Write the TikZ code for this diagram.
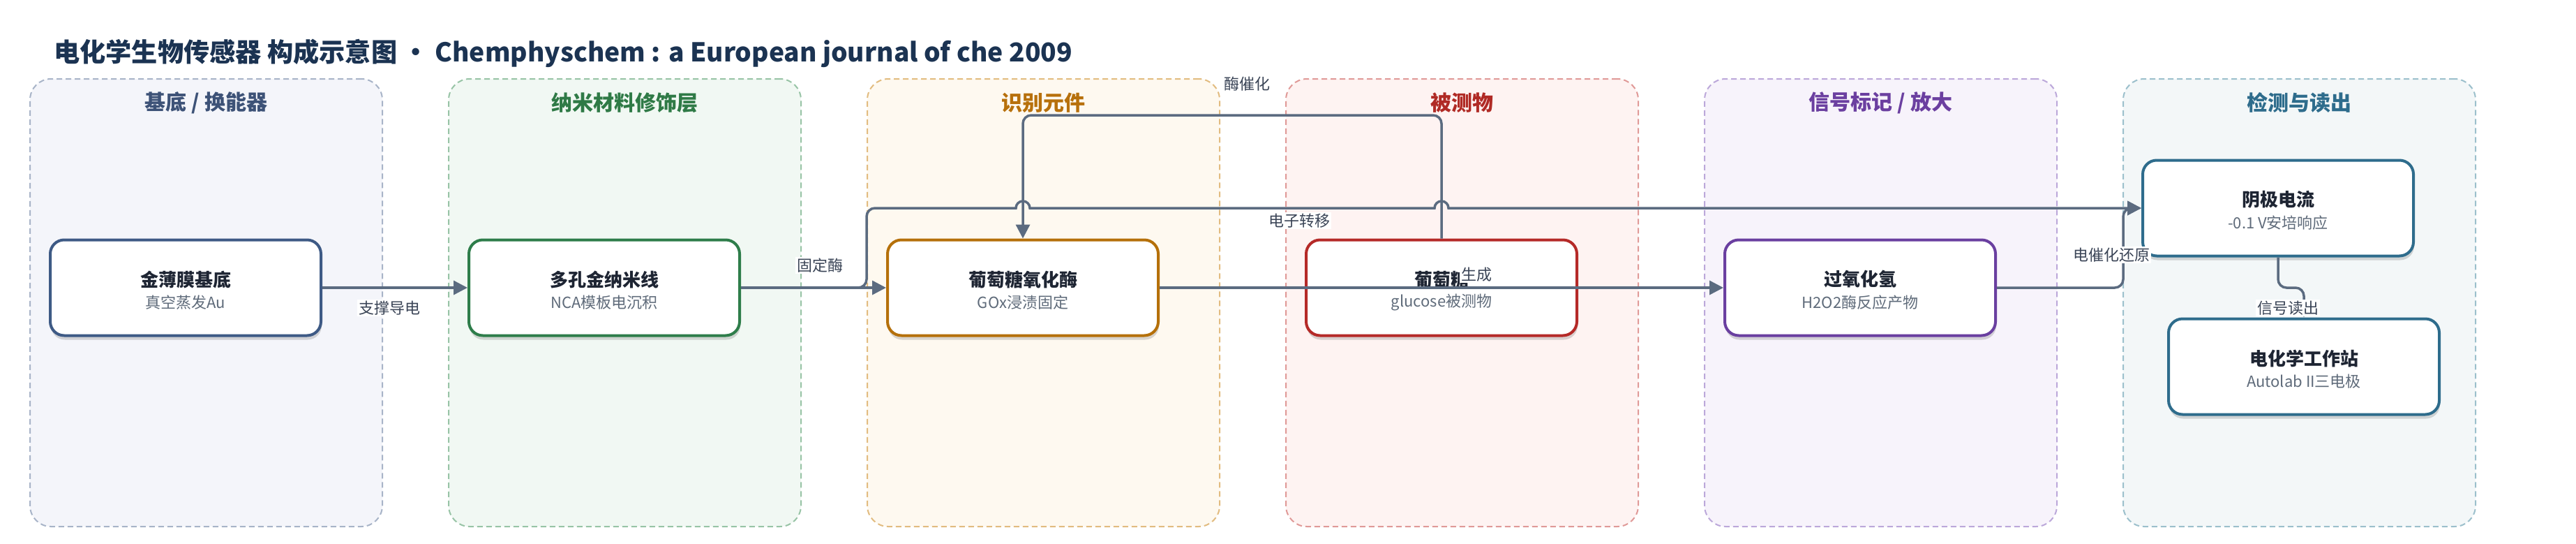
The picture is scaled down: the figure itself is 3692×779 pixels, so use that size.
\documentclass[tikz,border=0pt]{standalone}
\usepackage{fontspec}
\setmainfont{Noto Sans CJK SC}
\usetikzlibrary{arrows.meta,shadows}
\definecolor{titlec}{HTML}{1B3352}
\definecolor{edgec}{HTML}{5B6B80}
\definecolor{lblc}{HTML}{3A4456}
\definecolor{ntc}{HTML}{1E2533}
\definecolor{nsc}{HTML}{5F6B7A}
\definecolor{laneAf}{HTML}{F4F5FA}\definecolor{laneAd}{HTML}{A8B4C8}\definecolor{laneAt}{HTML}{3D5277}\definecolor{boxA}{HTML}{3E5A85}
\definecolor{laneBf}{HTML}{F1F8F3}\definecolor{laneBd}{HTML}{98C4A6}\definecolor{laneBt}{HTML}{2F7A46}\definecolor{boxB}{HTML}{2E7D4A}
\definecolor{laneCf}{HTML}{FEF9F0}\definecolor{laneCd}{HTML}{E2BC80}\definecolor{laneCt}{HTML}{B7700B}\definecolor{boxC}{HTML}{B5700A}
\definecolor{laneDf}{HTML}{FEF3F2}\definecolor{laneDd}{HTML}{E09A98}\definecolor{laneDt}{HTML}{B02A25}\definecolor{boxD}{HTML}{B52A28}
\definecolor{laneEf}{HTML}{F7F3FB}\definecolor{laneEd}{HTML}{BCA8DA}\definecolor{laneEt}{HTML}{6B3FA0}\definecolor{boxE}{HTML}{6A3FA0}
\definecolor{laneFf}{HTML}{F3F7F8}\definecolor{laneFd}{HTML}{9CC0CC}\definecolor{laneFt}{HTML}{2E6C8C}\definecolor{boxF}{HTML}{2E6C8C}
\begin{document}
\begin{tikzpicture}[x=1pt,y=-1pt,
  lane/.style={line width=2pt, dash pattern=on 8pt off 5pt, rounded corners=30pt, minimum width=505pt, minimum height=641pt, inner sep=0pt},
  lanetitle/.style={font=\bfseries\fontsize{30}{34}\selectfont, inner sep=0pt},
  box/.style={draw, fill=white, line width=4pt, rounded corners=20pt, minimum width=388pt, minimum height=137pt, inner sep=0pt,
    drop shadow={shadow xshift=1pt, shadow yshift=-6pt, opacity=0.15, fill=black}},
  ntitle/.style={font=\bfseries\fontsize{26}{30}\selectfont, text=ntc, inner sep=0pt},
  nsub/.style={font=\fontsize{22}{26}\selectfont, text=nsc, inner sep=0pt},
  edge/.style={draw=edgec, line width=3.5pt, rounded corners=12pt, -{Triangle[length=20pt,width=20pt]}},
  lbl/.style={fill=white, text=lblc, font=\fontsize{22}{26}\selectfont, inner sep=2pt}
]
\useasboundingbox (0,0) rectangle (3692,779);
\fill[white] (0,0) rectangle (3692,779);

% title
\node[anchor=west, inner sep=0pt, text=titlec, font=\bfseries\fontsize{37.2}{41}\selectfont] (title) at (77,76) {电化学生物传感器 构成示意图 • Chemphyschem : a European journal of che 2009};

% lanes
\node[lane, draw=laneAd, fill=laneAf] (L1) at (295.5,433.5) {};
\node[lane, draw=laneBd, fill=laneBf] (L2) at (895.5,433.5) {};
\node[lane, draw=laneCd, fill=laneCf] (L3) at (1495.5,433.5) {};
\node[lane, draw=laneDd, fill=laneDf] (L4) at (2095.5,433.5) {};
\node[lane, draw=laneEd, fill=laneEf] (L5) at (2695.5,433.5) {};
\node[lane, draw=laneFd, fill=laneFf] (L6) at (3295.5,433.5) {};
\node[lanetitle, text=laneAt] (T1) at (295.5,147) {基底 / 换能器};
\node[lanetitle, text=laneBt] (T2) at (895.5,147) {纳米材料修饰层};
\node[lanetitle, text=laneCt] (T3) at (1495.5,147) {识别元件};
\node[lanetitle, text=laneDt] (T4) at (2095.5,147) {被测物};
\node[lanetitle, text=laneEt] (T5) at (2695.5,147) {信号标记 / 放大};
\node[lanetitle, text=laneFt] (T6) at (3295.5,147) {检测与读出};

% boxes
\node[box, draw=boxA] (n1) at (266,412) {};
\node[box, draw=boxB] (n2) at (866,412) {};
\node[box, draw=boxC] (n3) at (1466,412) {};
\node[box, draw=boxD] (n4) at (2066,412) {};
\node[box, draw=boxE] (n5) at (2666,412) {};
\node[box, draw=boxF] (n6) at (3265,298) {};
\node[box, draw=boxF] (n7) at (3302,525) {};

\node[ntitle] (n1t) at (266,400) {金薄膜基底};
\node[nsub] (n1s) at (266,433) {真空蒸发Au};
\node[ntitle] (n2t) at (866,400) {多孔金纳米线};
\node[nsub] (n2s) at (866,433) {NCA模板电沉积};
\node[ntitle] (n3t) at (1466,400) {葡萄糖氧化酶};
\node[nsub] (n3s) at (1466,433) {GOx浸渍固定};
\node[ntitle] (n4t) at (2066,400) {葡萄糖};
\node[nsub] (n4s) at (2066,433) {glucose被测物};
\node[ntitle] (n5t) at (2666,400) {过氧化氢};
\node[nsub] (n5s) at (2666,433) {H2O2酶反应产物};
\node[ntitle] (n6t) at (3265,286) {阴极电流};
\node[nsub] (n6s) at (3265,319) {-0.1 V安培响应};
\node[ntitle] (n7t) at (3302,513) {电化学工作站};
\node[nsub] (n7s) at (3302,546) {Autolab II三电极};

% edges
\draw[edge] (n1.east) -- (n2.west);
\draw[edge] (n2.east) -- (n3.west);
\draw[edge] (n2.east) -- (1242,412) -- (1242,298) -- (1300,298) [sharp corners] -- (1456,298)
  arc[start angle=180, end angle=360, radius=10] -- (2056,298)
  arc[start angle=180, end angle=360, radius=10] -- (n6.west);
\draw[edge] (n4.north) -- (2066,165) -- (1466,165) -- (n3.north);
\draw[edge] (n3.east) -- (n5.west);
\draw[edge] (n5.east) -- (3043,412) -- (3043,298) -- (n6.west);
\draw[edge] (n6.south) -- (3265,412) -- (3302,412) -- (n7.north);

% edge labels
\node[lbl] (l1) at (558,441) {支撑导电};
\node[lbl] (l2) at (1175,380) {固定酶};
\node[lbl] (l3) at (1862,316) {电子转移};
\node[lbl] (l4) at (1787,120) {酶催化};
\node[lbl] (l5) at (2116,393) {生成};
\node[lbl] (l6) at (3026,365) {电催化还原};
\node[lbl] (l7) at (3279,441) {信号读出};
\end{tikzpicture}
\end{document}
